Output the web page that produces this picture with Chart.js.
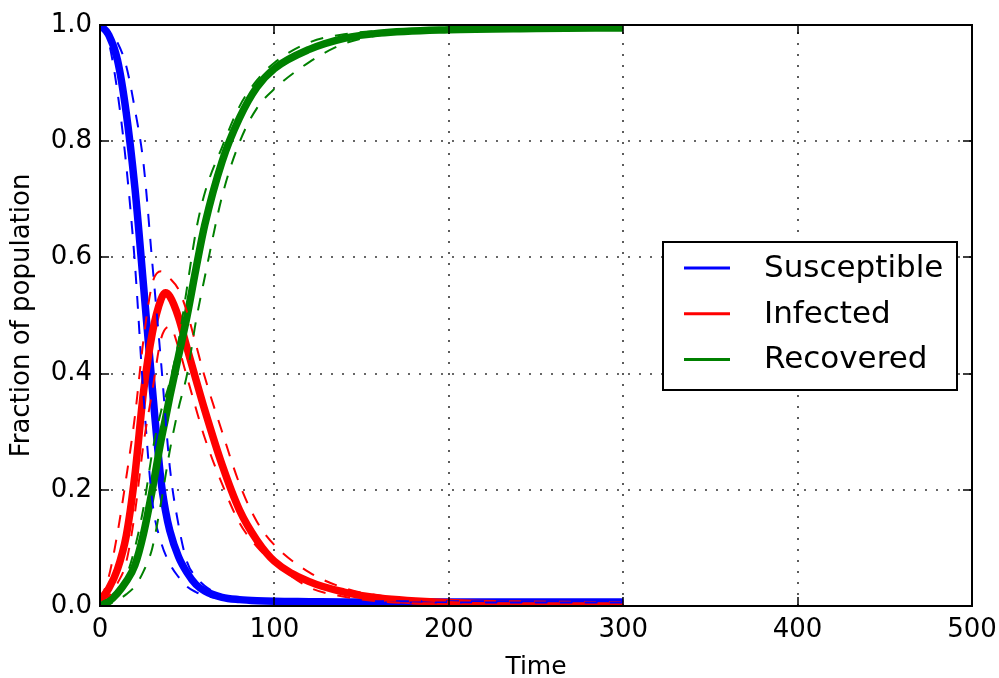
<!DOCTYPE html>
<html>
<head>
    <title>SIR model</title>
    <meta charset="utf-8" />
    <script src="https://cdn.jsdelivr.net/npm/chart.js@4.4.1/dist/chart.umd.min.js"></script>
    <style>
        body { margin: 0; background: #fff; }
        #chart { display: block; }
    </style>
</head>
<body>
<canvas id="chart" width="999" height="678"></canvas>

<script>
// time points
var timeSolid = [0, 5, 10, 15, 20, 25, 30, 35, 37.5, 40, 45, 50, 55, 60, 70, 80, 90, 100, 120, 140, 160, 200, 250, 300];
var susceptible = [1.0, 0.983, 0.94, 0.85, 0.72, 0.55, 0.375, 0.215, 0.165, 0.13, 0.085, 0.057, 0.037, 0.026, 0.015, 0.011, 0.009, 0.008, 0.0075, 0.007, 0.007, 0.007, 0.007, 0.007];
var infected = [0.01, 0.03, 0.063, 0.12, 0.225, 0.37, 0.47, 0.528, 0.539, 0.533, 0.497, 0.443, 0.39, 0.338, 0.243, 0.165, 0.113, 0.077, 0.042, 0.024, 0.014, 0.006, 0.003, 0.002];
var recovered = [0.0, 0.008, 0.022, 0.042, 0.07, 0.125, 0.2, 0.285, 0.322, 0.36, 0.43, 0.5, 0.58, 0.655, 0.765, 0.84, 0.893, 0.925, 0.958, 0.977, 0.986, 0.992, 0.994, 0.995];

// dashed bounds
var timeBand = [0, 5, 10, 15, 20, 25, 30, 35, 40, 45, 50, 55, 60, 70, 80, 90, 100, 120, 140, 160, 200, 250, 300];
var susceptibleEarly = [1.0, 0.97, 0.885, 0.76, 0.59, 0.36, 0.18, 0.11, 0.073, 0.05, 0.033, 0.024, 0.018, 0.012, 0.009, 0.008, 0.007, 0.0065, 0.006, 0.006, 0.006, 0.006, 0.006];
var susceptibleLate = [1.0, 0.99, 0.97, 0.93, 0.855, 0.76, 0.59, 0.42, 0.24, 0.14, 0.075, 0.05, 0.035, 0.018, 0.012, 0.01, 0.009, 0.0085, 0.008, 0.008, 0.008, 0.008, 0.008];
var infectedHigh = [0.01, 0.05, 0.125, 0.22, 0.326, 0.46, 0.555, 0.576, 0.564, 0.545, 0.505, 0.45, 0.395, 0.3, 0.21, 0.145, 0.105, 0.058, 0.031, 0.018, 0.007, 0.003, 0.002];
var infectedLow = [0.01, 0.017, 0.039, 0.075, 0.16, 0.28, 0.37, 0.46, 0.481, 0.445, 0.393, 0.34, 0.29, 0.21, 0.143, 0.102, 0.074, 0.032, 0.016, 0.008, 0.003, 0.001, 0.001];
var recoveredEarly = [0.0, 0.006, 0.02, 0.05, 0.1, 0.17, 0.265, 0.335, 0.385, 0.455, 0.55, 0.645, 0.71, 0.79, 0.86, 0.905, 0.935, 0.97, 0.984, 0.99, 0.994, 0.995, 0.995];
var recoveredLate = [0.0, 0.003, 0.01, 0.02, 0.034, 0.06, 0.1, 0.178, 0.267, 0.34, 0.4, 0.49, 0.565, 0.705, 0.798, 0.857, 0.89, 0.936, 0.968, 0.982, 0.99, 0.993, 0.994];

var xTicks = [0, 100, 200, 300, 400, 500];
var yTicks = [0.0, 0.2, 0.4, 0.6, 0.8, 1.0];

var legendLabels = ['Susceptible', 'Infected', 'Recovered'];
var legendColors = ['#0000ff', '#ff0000', '#008000'];

var FONT = "'DejaVu Sans', sans-serif";

function toPoints(ts, vs) {
    return ts.map(function(t, i) { return {x: t, y: vs[i]}; });
}

function solid(data, color, order) {
    return {
        data: toPoints(timeSolid, data),
        borderColor: color,
        borderWidth: 7.5,
        pointRadius: 0,
        cubicInterpolationMode: 'monotone',
        borderCapStyle: 'butt',
        fill: false,
        clip: 0,
        order: order
    };
}

function dashed(data, color, order) {
    return {
        data: toPoints(timeBand, data),
        borderColor: color,
        borderWidth: 2,
        borderDash: [13, 12],
        pointRadius: 0,
        cubicInterpolationMode: 'monotone',
        borderCapStyle: 'butt',
        fill: false,
        clip: 0,
        order: order
    };
}

// grid, inward ticks, frame and legend like matplotlib classic
var mplDecor = {
    id: 'mplDecor',
    beforeDatasetsDraw: function(chart) {
        var ctx = chart.ctx, a = chart.chartArea;
        var xs = chart.scales.x, ys = chart.scales.y;
        ctx.save();
        ctx.strokeStyle = 'rgba(0,0,0,0.8)';
        ctx.lineWidth = 1.6;
        ctx.setLineDash([2, 9]);
        xTicks.forEach(function(v) {
            var px = Math.round(xs.getPixelForValue(v));
            ctx.beginPath(); ctx.moveTo(px, a.bottom); ctx.lineTo(px, a.top); ctx.stroke();
        });
        yTicks.forEach(function(v) {
            var py = Math.round(ys.getPixelForValue(v));
            ctx.beginPath(); ctx.moveTo(a.left, py); ctx.lineTo(a.right, py); ctx.stroke();
        });
        ctx.restore();
    },
    afterDatasetsDraw: function(chart) {
        var ctx = chart.ctx, a = chart.chartArea;
        var xs = chart.scales.x, ys = chart.scales.y;
        ctx.save();
        ctx.strokeStyle = '#000';
        ctx.lineWidth = 1.5;
        var tl = 9;
        xTicks.forEach(function(v) {
            var px = Math.round(xs.getPixelForValue(v));
            ctx.beginPath();
            ctx.moveTo(px, a.bottom); ctx.lineTo(px, a.bottom - tl);
            ctx.moveTo(px, a.top); ctx.lineTo(px, a.top + tl);
            ctx.stroke();
        });
        yTicks.forEach(function(v) {
            var py = Math.round(ys.getPixelForValue(v));
            ctx.beginPath();
            ctx.moveTo(a.left, py); ctx.lineTo(a.left + tl, py);
            ctx.moveTo(a.right, py); ctx.lineTo(a.right - tl, py);
            ctx.stroke();
        });
        // frame
        ctx.lineWidth = 2;
        ctx.strokeRect(a.left, a.top, a.right - a.left, a.bottom - a.top);

        // legend
        var bx = 663, by = 242, bw = 294, bh = 148;
        ctx.fillStyle = '#fff';
        ctx.fillRect(bx, by, bw, bh);
        ctx.strokeRect(bx, by, bw, bh);
        ctx.font = '31px ' + FONT;
        ctx.textBaseline = 'middle';
        ctx.textAlign = 'left';
        for (var i = 0; i < legendLabels.length; i++) {
            var ly = 268 + i * 45.7;
            ctx.strokeStyle = legendColors[i];
            ctx.lineWidth = 3;
            ctx.beginPath(); ctx.moveTo(684, ly); ctx.lineTo(730, ly); ctx.stroke();
            ctx.fillStyle = '#000';
            ctx.fillText(legendLabels[i], 764, ly + 1);
        }
        ctx.restore();
    }
};

var chart = new Chart(document.getElementById('chart'), {
    type: 'line',
    data: {
        datasets: [
            solid(susceptible, legendColors[0], 9),
            solid(infected, legendColors[1], 8),
            solid(recovered, legendColors[2], 7),
            dashed(susceptibleEarly, legendColors[0], 6),
            dashed(susceptibleLate, legendColors[0], 5),
            dashed(infectedHigh, legendColors[1], 4),
            dashed(infectedLow, legendColors[1], 3),
            dashed(recoveredEarly, legendColors[2], 2),
            dashed(recoveredLate, legendColors[2], 1)
        ]
    },
    options: {
        responsive: false,
        animation: false,
        devicePixelRatio: 1,
        layout: { padding: { top: 25, right: 27, left: 0, bottom: 0 } },
        plugins: {
            legend: { display: false },
            tooltip: { enabled: false }
        },
        scales: {
            x: {
                type: 'linear',
                min: 0,
                max: 500,
                afterBuildTicks: function(scale) {
                    scale.ticks = xTicks.map(function(v) { return {value: v}; });
                },
                afterFit: function(scale) {
                    scale.height = 72;
                    scale.paddingLeft = 0;
                    scale.paddingRight = 0;
                },
                ticks: {
                    color: '#000',
                    font: { family: FONT, size: 26 },
                    padding: 9,
                    maxRotation: 0
                },
                grid: { display: false, drawTicks: false },
                border: { display: false },
                title: {
                    display: true,
                    text: 'Time',
                    color: '#000',
                    font: { family: FONT, size: 25, lineHeight: 1.0 },
                    padding: { top: 0, bottom: -2 }
                }
            },
            y: {
                type: 'linear',
                min: 0,
                max: 1,
                afterBuildTicks: function(scale) {
                    scale.ticks = yTicks.map(function(v) { return {value: v}; });
                },
                afterFit: function(scale) {
                    scale.width = 100;
                    scale.paddingTop = 0;
                    scale.paddingBottom = 0;
                },
                ticks: {
                    color: '#000',
                    font: { family: FONT, size: 26 },
                    padding: 8,
                    callback: function(v) { return Number(v).toFixed(1); }
                },
                grid: { display: false, drawTicks: false },
                border: { display: false },
                title: {
                    display: true,
                    text: 'Fraction of population',
                    color: '#000',
                    font: { family: FONT, size: 26 },
                    padding: { top: 7, bottom: 0 }
                }
            }
        }
    },
    plugins: [mplDecor]
});
</script>
</body>
</html>
